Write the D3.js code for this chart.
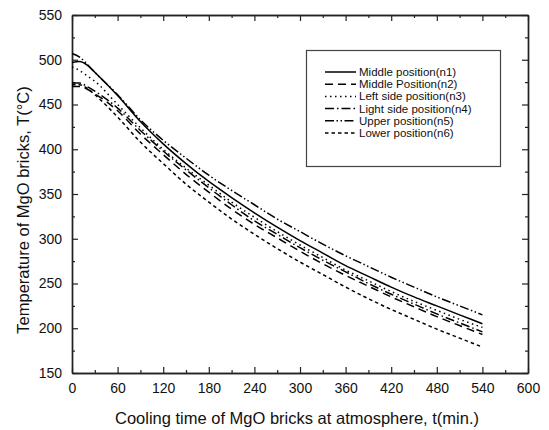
<!DOCTYPE html>
<html>
<head>
<meta charset="utf-8">
<script src="https://cdn.jsdelivr.net/npm/d3@7"></script>
<style>
  body { margin: 0; background: #fff; }
  #chart { width: 549px; height: 430px; }
  text { font-family: "Liberation Sans", Arial, sans-serif; fill: #111; }
</style>
</head>
<body>
<div id="chart"></div>
<script>
// cooling time (min)
let times = [0, 10, 20, 30, 60, 90, 120, 150, 180, 210, 240, 270, 300, 330, 360, 390, 420, 450, 480, 510, 540]

// temperatures (deg C)
let n1 = [497, 498, 494, 486, 460, 431, 406, 384, 364, 346, 329, 313, 298, 284, 270, 258, 246, 235, 225, 215, 205]
let n2 = [470, 470, 467, 462, 443, 417, 394, 372, 352, 333, 316, 301, 286, 272, 259, 247, 235, 224, 213, 203, 193]
let n3 = [492, 488, 482, 476, 450, 424, 400, 379, 360, 341, 324, 308, 293, 279, 265, 253, 241, 230, 220, 210, 201]
let n4 = [474, 474, 470, 465, 446, 421, 398, 377, 357, 338, 320, 305, 290, 276, 263, 250, 238, 227, 216, 206, 196]
let n5 = [507, 503, 495, 486, 461, 433, 410, 390, 371, 354, 338, 322, 308, 294, 281, 269, 257, 246, 235, 225, 215]
let n6 = [472, 472, 468, 461, 436, 408, 384, 361, 341, 322, 305, 289, 274, 260, 246, 233, 221, 210, 199, 189, 179]

let seriesNames = ['Middle position(n1)', 'Middle Position(n2)', 'Left side position(n3)',
                   'Light side position(n4)', 'Upper position(n5)', 'Lower position(n6)']
let seriesValues = [n1, n2, n3, n4, n5, n6]
let dashes = ['none', '8,5', '1.5,3.5', '9,3,1.5,3', '9,2.5,1.5,2.5,1.5,2.5', '3.5,3']

let xTicks = [0, 60, 120, 180, 240, 300, 360, 420, 480, 540, 600]
let yTicks = [150, 200, 250, 300, 350, 400, 450, 500, 550]

function draw() {
  let width = 549, height = 430
  let m = {left: 72, right: 21, top: 15, bottom: 57}

  let svg = d3.select('#chart').append('svg')
    .attr('width', width)
    .attr('height', height)

  let x = d3.scaleLinear().domain([0, 600]).range([m.left, width - m.right])
  let y = d3.scaleLinear().domain([150, 550]).range([height - m.bottom, m.top])

  let axisColor = '#222'
  let minorX = d3.range(30, 600, 60)
  let minorY = d3.range(175, 550, 50)

  // bottom axis, ticks inward
  svg.append('g')
    .attr('transform', 'translate(0,' + (height - m.bottom) + ')')
    .call(d3.axisBottom(x).tickValues(xTicks).tickSize(-6).tickPadding(10).tickSizeOuter(0))
  svg.append('g')
    .attr('transform', 'translate(0,' + (height - m.bottom) + ')')
    .call(d3.axisBottom(x).tickValues(minorX).tickSize(-3).tickFormat('').tickSizeOuter(0))

  // top axis
  svg.append('g')
    .attr('transform', 'translate(0,' + m.top + ')')
    .call(d3.axisTop(x).tickValues(xTicks).tickSize(-6).tickFormat('').tickSizeOuter(0))
  svg.append('g')
    .attr('transform', 'translate(0,' + m.top + ')')
    .call(d3.axisTop(x).tickValues(minorX).tickSize(-3).tickFormat('').tickSizeOuter(0))

  // left axis
  svg.append('g')
    .attr('transform', 'translate(' + m.left + ',0)')
    .call(d3.axisLeft(y).tickValues(yTicks).tickSize(-6).tickPadding(10).tickSizeOuter(0))
  svg.append('g')
    .attr('transform', 'translate(' + m.left + ',0)')
    .call(d3.axisLeft(y).tickValues(minorY).tickSize(-3).tickFormat('').tickSizeOuter(0))

  // right axis
  svg.append('g')
    .attr('transform', 'translate(' + (width - m.right) + ',0)')
    .call(d3.axisRight(y).tickValues(yTicks).tickSize(-6).tickFormat('').tickSizeOuter(0))
  svg.append('g')
    .attr('transform', 'translate(' + (width - m.right) + ',0)')
    .call(d3.axisRight(y).tickValues(minorY).tickSize(-3).tickFormat('').tickSizeOuter(0))

  svg.selectAll('.domain').attr('stroke', axisColor).attr('stroke-width', 1.4)
  svg.selectAll('.tick line').attr('stroke', axisColor).attr('stroke-width', 1.2)
  svg.selectAll('.tick text')
    .attr('font-size', 14)
    .attr('font-family', '"Liberation Sans", Arial, sans-serif')
    .attr('fill', '#111')

  // curves
  let line = d3.line()
    .x(function(d, i){ return x(times[i]) })
    .y(function(d){ return y(d) })
    .curve(d3.curveMonotoneX)

  svg.append('g').selectAll('path')
    .data(seriesValues)
    .enter()
    .append('path')
      .attr('d', line)
      .attr('fill', 'none')
      .attr('stroke', '#000')
      .attr('stroke-width', 1.5)
      .attr('stroke-dasharray', function(d, i){ return dashes[i] })

  // legend
  let legend = svg.append('g')
  legend.append('rect')
    .attr('x', 306.5).attr('y', 50.5)
    .attr('width', 194).attr('height', 116)
    .attr('fill', '#fff')
    .attr('stroke', '#444')
    .attr('stroke-width', 1.2)

  let rows = legend.selectAll('g.row')
    .data(seriesNames)
    .enter()
    .append('g')
      .attr('class', 'row')
      .attr('transform', function(d, i){ return 'translate(0,' + (72 + i * 12.2) + ')' })

  rows.append('line')
    .attr('x1', 325).attr('x2', 356)
    .attr('stroke', '#000')
    .attr('stroke-width', 1.5)
    .attr('stroke-dasharray', function(d, i){ return dashes[i] })

  rows.append('text')
    .attr('x', 359)
    .attr('dy', '0.35em')
    .attr('font-size', 11.5)
    .text(function(d){ return d })

  // axis titles
  svg.append('text')
    .attr('x', 297)
    .attr('y', 424)
    .attr('text-anchor', 'middle')
    .attr('font-size', 16.5)
    .text('Cooling time of MgO bricks at atmosphere, t(min.)')

  svg.append('text')
    .attr('transform', 'translate(29,210) rotate(-90)')
    .attr('text-anchor', 'middle')
    .attr('font-size', 16.5)
    .text('Temperature of MgO bricks, T(°C)')
}

draw()
</script>
</body>
</html>
